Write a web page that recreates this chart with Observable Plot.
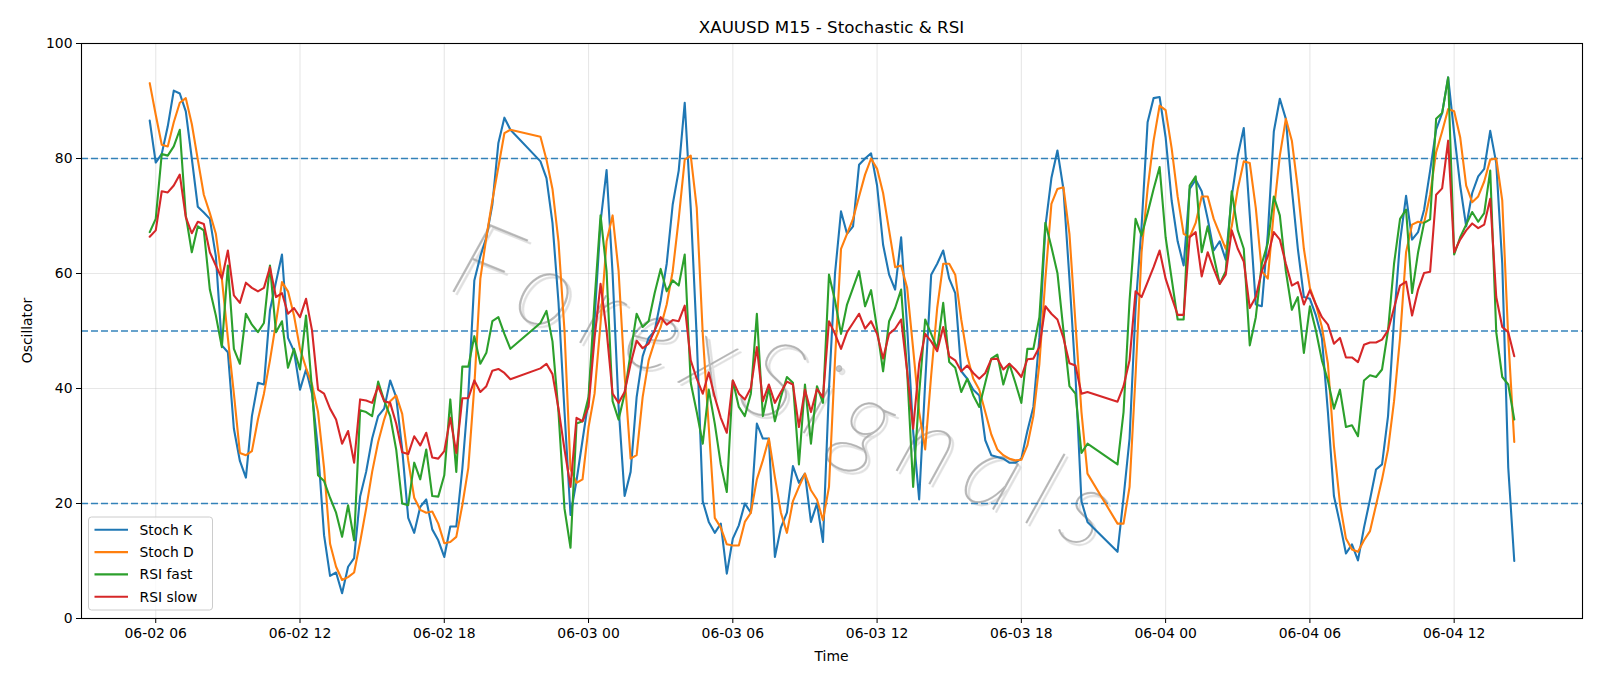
<!DOCTYPE html>
<html>
<head>
<meta charset="utf-8">
<script src="https://cdn.jsdelivr.net/npm/d3@7"></script>
<script src="https://cdn.jsdelivr.net/npm/@observablehq/plot@0.6"></script>
<style>
  html, body { margin: 0; padding: 0; background: #fff; }
  #chart { width: 1600px; height: 686px; }
</style>
</head>
<body>
<div id="chart"></div>
<script>
// XAUUSD 15-minute bars, three trading sessions (daily break 21:00-22:00 UTC)
const sessions = [
  {start: "2025-06-02T05:45:00Z", bars: 61},
  {start: "2025-06-02T22:00:00Z", bars: 92},
  {start: "2025-06-03T22:00:00Z", bars: 67}
];

const stochK = [
  // session 1
  86.6, 79.3, 80.8, 85.6, 91.8, 91.3, 88.2, 80, 71.6, 70.6,
  69.5, 63, 47.5, 46.3, 33, 27.4, 24.5, 35.2, 41, 40.7,
  53.6, 58.5, 63.3, 48.8, 46.5, 39.8, 43.3, 39.1, 29.4, 14.5,
  7.4, 8, 4.4, 9, 10.5, 21.2, 25.5, 31.3, 35.2, 36.5,
  41.4, 38.5, 29.4, 17.5, 14.9, 19.4, 20.7, 15.5, 13.6, 10.7,
  16, 16, 26, 39, 58.8, 63, 66.3, 72, 82.7, 87.1,
  85,
  // session 2
  79.5, 76.6, 68.8, 55, 36, 18, 24, 31, 38, 52,
  69, 78, 60, 36.8, 21.3, 25.5, 38.5, 45.6, 48.8, 50,
  55.3, 61.7, 72, 77.9, 89.7, 71.4, 48.8, 20.4, 16.8, 14.9,
  16.5, 7.8, 13.9, 16.2, 20, 18.4, 33.9, 31.3, 31.3, 10.7,
  15.8, 18.4, 26.5, 23.6, 25.2, 16.8, 20, 13.3, 40, 60,
  70.8, 66.9, 68.2, 78.9, 80, 80.9, 75.3, 65, 59.8, 57.2,
  66.3, 50.7, 32.6, 20.7, 41, 59.8, 61.7, 64, 59.1, 56.6,
  43, 41.7, 39.8, 38.8, 31, 28.4, 28.1, 27.8, 27.1, 27.1,
  27.8, 32.6, 36.8, 48.8, 68.2, 76.6, 81.4, 74.7, 59.1, 42.3,
  20.4, 16.8,
  // session 3
  11.6, 21, 31.3, 54, 68.2, 86.3, 90.5, 90.7, 83.7, 72.7,
  65.6, 61.4, 74.7, 76.3, 74.3, 69.5, 64, 65.6, 62.4, 73.4,
  80.5, 85.3, 70.1, 54.6, 54.3, 66.9, 84.7, 90.4, 86.9, 74.7,
  64.3, 55.9, 55.6, 52.7, 48.8, 35.9, 21.3, 16.5, 11.3, 12.9,
  10.1, 15.8, 20.7, 25.9, 26.8, 35.2, 52, 65.6, 73.5, 65.9,
  67.2, 71.1, 77.9, 85, 87.9, 94.1, 84.4, 75.3, 68.2, 74,
  76.9, 78.2, 84.8, 79.2, 61.7, 26.2, 10
];

const stochD = [
  // session 1
  93.1, 87.6, 82.4, 82.1, 86.3, 89.7, 90.5, 86, 79.8, 73.7,
  70.5, 66.9, 59.1, 48.8, 39.1, 28.8, 28.4, 29.1, 34.6, 39.1,
  44.9, 51.4, 58.5, 56.9, 52.7, 46.9, 43.6, 40.7, 35.9, 26.2,
  13, 9, 6.7, 7.2, 8, 13.3, 19.1, 25.5, 30.7, 34.6,
  37.8, 38.8, 35.6, 27.5, 21, 18.9, 18.4, 18.6, 16.5, 13.1,
  13.3, 14.2, 19.7, 26.2, 40.4, 59.1, 66.3, 72.7, 78.5, 84.4,
  85,
  // session 2
  83.8, 79.8, 74.7, 65.6, 50, 26, 23.6, 24.2, 33.3, 39.1,
  51.4, 65.6, 70.1, 60.4, 42.3, 27.8, 28.4, 38.5, 44.9, 48.2,
  50.7, 54.6, 60.4, 69.5, 79.8, 80.5, 71.4, 49.5, 33.3, 17.5,
  15.8, 12.9, 12.7, 12.7, 16.8, 18.4, 24.2, 27.5, 31.3, 24.6,
  18.4, 14.9, 20.4, 22.9, 25.2, 22.3, 20.7, 17.1, 22.9, 45,
  64.3, 66.9, 69.5, 73.4, 77.2, 80, 78.2, 74, 67.5, 61.1,
  61.4, 57.5, 46.9, 35.9, 29.4, 42.3, 54, 61.7, 61.7, 59.8,
  52, 45.6, 41.7, 39.8, 35.9, 32, 29.4, 28.4, 27.8, 27.5,
  27.6, 30.1, 35.2, 44.3, 59.1, 72.1, 74.7, 75, 66.9, 51.4,
  35.9, 25.2,
  // session 3
  16.5, 16.5, 22.9, 42.3, 63.7, 74.7, 83.1, 89.2, 88.4, 81.8,
  73.4, 66.9, 66.3, 68.8, 73.4, 73.4, 69.5, 66.9, 64.3, 68.2,
  74.7, 79.5, 79.2, 71.4, 60.4, 59.1, 70.8, 80.5, 86.9, 83.1,
  74.7, 64.3, 57.5, 54.6, 50.7, 44.3, 30, 20, 13.9, 12,
  11.6, 13.6, 15.2, 19.7, 24.2, 29.4, 37.8, 48.8, 63.7, 68.5,
  69, 68.8, 73.7, 81.1, 84.7, 88.6, 88.2, 83.7, 75.3, 72.4,
  73.4, 76, 79.8, 80, 72.7, 48.8, 30.7
];

const rsiFast = [
  // session 1
  67.2, 69.5, 80.8, 80.5, 82.1, 85, 70.1, 63.7, 68.2, 67.5,
  57.2, 52.7, 47.2, 61.4, 46.9, 44.3, 53, 51.1, 49.8, 51.4,
  61.4, 49.8, 51.7, 43.6, 46.9, 43.3, 52.7, 39.8, 24.9, 23.9,
  21, 18.4, 14.2, 19.7, 13.6, 36.2, 35.9, 35.2, 41.2, 37.9,
  35.2, 29.4, 20, 19.7, 27.1, 24.2, 29.4, 21.3, 21.2, 24.9,
  38.1, 25.5, 43.8, 43.8, 49.1, 44.3, 46.2, 51.7, 52.4, 49.5,
  46.9,
  // session 2
  51.4, 53.5, 48.2, 35.9, 19.1, 12.3, 33.9, 34.3, 38.5, 55.3,
  70.1, 60.4, 37.8, 34.6, 39.1, 46.2, 53, 50.7, 51.7, 56.6,
  60.8, 56.9, 58.8, 57.9, 63.3, 41, 35.9, 30.4, 39.8, 33.9,
  26.8, 22, 41.4, 36.8, 35.2, 39.1, 53, 35.2, 40.1, 34.3,
  38.5, 42, 41, 26.8, 40.7, 30.4, 40.4, 37.5, 59.8, 55.3,
  49.5, 54.6, 57.5, 60.4, 54.3, 57.1, 50.4, 43, 51.7, 54,
  57.2, 43, 22.9, 39.1, 52, 49.5, 46.9, 54.9, 44.6, 43.6,
  39.4, 41.7, 38.8, 36.8, 41, 45.2, 45.9, 40.7, 44.3, 41,
  37.5, 46.9, 46.9, 52.4, 68.8, 64.6, 60.1, 50.1, 40.4, 39.1,
  28.8, 30.4,
  // session 3
  26.8, 35.9, 55.3, 69.5, 66.6, 70.5, 74.7, 78.5, 66.3, 59.1,
  52, 52, 75.3, 76.9, 63.7, 68.2, 63, 58.2, 60.4, 74.3,
  67.5, 64.3, 47.5, 52.4, 61.7, 65.3, 73.4, 70.1, 60.4, 53.7,
  55.9, 46.2, 54.3, 50.1, 44.9, 41.4, 36.5, 39.8, 33.3, 33.6,
  31.7, 41.4, 42.3, 42, 43.3, 50.1, 61.7, 69.5, 71.1, 56.6,
  63.7, 68.8, 69.4, 86.9, 87.9, 94.1, 63.3, 66.3, 68.5, 70.7,
  69, 70.5, 77.9, 49.8, 42, 40.7, 34.6
];

const rsiSlow = [
  // session 1
  66.4, 67.5, 74.3, 74.1, 75.3, 77.2, 69.8, 67, 69, 68.6,
  63.7, 61.4, 59.1, 64, 56.2, 54.9, 58.4, 57.5, 56.9, 57.5,
  61.1, 55.9, 56.6, 53, 54, 52.4, 55.6, 50.1, 39.8, 39.1,
  36.5, 34.6, 30.4, 32.6, 27.1, 38.1, 37.9, 37.5, 40.4, 37.8,
  37.5, 33.9, 28.9, 28.6, 31.7, 30.1, 32.3, 28, 27.8, 29.1,
  34.9, 28.8, 38.3, 38.3, 41.4, 39.4, 40.4, 43.1, 43.4, 42.7,
  41.6,
  // session 2
  43.5, 44.3, 42.5, 36.5, 29.4, 22.9, 34.9, 34.3, 36.8, 48.8,
  58.2, 50.1, 39.1, 37.5, 39.4, 44.3, 48.3, 47, 47.8, 50.1,
  52.4, 51.1, 51.9, 51.7, 54.4, 44.9, 41.7, 39.1, 42.8, 38.5,
  34.9, 32.3, 41.4, 39.1, 38.1, 40.1, 47.2, 37.8, 40.7, 37.5,
  39.4, 41.2, 40.7, 33.3, 39.8, 35.9, 39.9, 38.5, 51.7, 49.5,
  46.9, 49.8, 51.4, 53, 50.4, 51.7, 49.5, 45.2, 49.5, 50.4,
  52, 43, 33, 44.3, 49.5, 48.2, 46.5, 50.7, 45.6, 44.9,
  43, 44, 42.7, 41.7, 42.7, 45.1, 45.2, 43.3, 44.3, 43.3,
  42, 45.1, 45.2, 47.2, 54.3, 53, 52, 48.8, 44.4, 44,
  39.1, 39.4,
  // session 3
  37.7, 40.4, 44.9, 56.9, 55.9, 58.5, 61.1, 64, 59.1, 55.9,
  52.8, 52.8, 66.3, 67.2, 59.5, 63.7, 60.8, 58.2, 59.8, 67.5,
  64.3, 62.1, 54, 55.9, 60.4, 63, 67.2, 65.9, 61.7, 57.9,
  58.5, 54.6, 57.1, 54.6, 52.4, 51.1, 47.8, 48.8, 45.4, 45.4,
  44.6, 47.6, 48, 48, 48.5, 50.1, 54, 57.9, 58.6, 52.7,
  57.2, 60.1, 60.3, 73.7, 74.8, 83.1, 63.7, 65.9, 67.5, 68.7,
  67.9, 68.5, 73, 55.9, 50.7, 49.8, 45.6
];

const seriesNames = ["Stoch K", "Stoch D", "RSI fast", "RSI slow"];
const seriesColors = ["#1f77b4", "#ff7f0e", "#2ca02c", "#d62728"];
const seriesValues = [stochK, stochD, rsiFast, rsiSlow];

const levels = [20, 50, 80];
const yTicks = [0, 20, 40, 60, 80, 100];
const chartTitle = "XAUUSD M15 - Stochastic & RSI";
const xLabel = "Time";
const yLabel = "Oscillator";
const watermark = "ForexSignals";

// bar timestamps
const BAR = 15 * 60 * 1000;
const times = sessions.flatMap(s =>
  d3.range(s.bars).map(k => new Date(Date.parse(s.start) + k * BAR))
);

// tidy rows per series
const series = seriesNames.map((name, si) => ({
  name,
  color: seriesColors[si],
  rows: seriesValues[si].map((v, i) => ({time: times[i], value: v}))
}));

// 5% padding on both sides of the time extent
const [t0, t1] = d3.extent(times);
const pad = (t1 - t0) * 0.05;
const xDomain = [new Date(+t0 - pad), new Date(+t1 + pad)];

const FONT = "DejaVu Sans, Liberation Sans, sans-serif";
const MARK_FONT = "Lato, Roboto, sans-serif";
const W = 1600, H = 686;
const mL = 81, mR = 18, mT = 43, mB = 68;

// faint watermark text, drawn under the series
const watermarkStyle = {
  frameAnchor: "middle", rotate: 22,
  fontSize: 108, fontStyle: "italic", fontWeight: 100, fontFamily: MARK_FONT
};

const svg = Plot.plot({
  width: W,
  height: H,
  marginLeft: mL,
  marginRight: mR,
  marginTop: mT,
  marginBottom: mB,
  style: {fontFamily: FONT, fontSize: "13.9px", background: "#fff", color: "#000", overflow: "visible"},
  x: {type: "utc", domain: xDomain},
  y: {domain: [0, 100]},
  marks: [
    Plot.gridX({ticks: d3.utcHour.every(6), stroke: "#b0b0b0", strokeOpacity: 0.3, strokeWidth: 1.1}),
    Plot.gridY(yTicks, {stroke: "#b0b0b0", strokeOpacity: 0.3, strokeWidth: 1.1}),
    Plot.text([watermark], {...watermarkStyle, dx: -39, dy: 62, fill: "#d8d8d8", stroke: "#d8d8d8", strokeWidth: 1.4, fillOpacity: 0.6, strokeOpacity: 0.6}),
    Plot.text([watermark], {...watermarkStyle, dx: -42, dy: 59, fill: "#a8a8a8", stroke: "#a8a8a8", strokeWidth: 1.1, fillOpacity: 0.65, strokeOpacity: 0.65}),
    Plot.ruleY(levels, {stroke: "#1f77b4", strokeOpacity: 0.9, strokeWidth: 1.5, strokeDasharray: "7,3"}),
    ...series.map(s => Plot.line(s.rows, {x: "time", y: "value", stroke: s.color, strokeWidth: 2.1, strokeLinejoin: "round"})),
    Plot.frame({stroke: "#000", strokeWidth: 1.1}),
    Plot.axisX({
      ticks: d3.utcHour.every(6), tickFormat: d3.utcFormat("%m-%d %H"),
      tickSize: 5, tickPadding: 5, label: null, fontSize: 13.9
    }),
    Plot.axisY(yTicks, {tickSize: 5, tickPadding: 4, label: null, fontSize: 13.9})
  ]
});

document.getElementById("chart").appendChild(svg);

const root = d3.select(svg);
// spread the watermark letters
root.selectAll('g[aria-label="text"] text').style("letter-spacing", "16px");

// title and axis labels
const frameCx = mL + (W - mL - mR) / 2;
root.append("text")
  .attr("x", frameCx).attr("y", 26.5)
  .attr("text-anchor", "middle").attr("dominant-baseline", "central")
  .attr("font-family", FONT).attr("font-size", 16.7).attr("fill", "#000")
  .text(chartTitle);
root.append("text")
  .attr("x", frameCx).attr("y", 656)
  .attr("text-anchor", "middle").attr("dominant-baseline", "central")
  .attr("font-family", FONT).attr("font-size", 13.9).attr("fill", "#000")
  .text(xLabel);
root.append("text")
  .attr("transform", `translate(26.5, ${mT + (H - mT - mB) / 2}) rotate(-90)`)
  .attr("text-anchor", "middle").attr("dominant-baseline", "central")
  .attr("font-family", FONT).attr("font-size", 13.9).attr("fill", "#000")
  .text(yLabel);

// legend, lower-left inside the frame
const lg = root.append("g").attr("transform", `translate(${mL + 7.5}, ${H - mB - 101})`);
lg.append("rect")
  .attr("x", 0).attr("y", 0).attr("width", 124).attr("height", 93)
  .attr("rx", 3).attr("fill", "#fff").attr("fill-opacity", 0.8)
  .attr("stroke", "#cccccc").attr("stroke-width", 1);
series.forEach((s, k) => {
  const yy = 12.8 + k * 22.3;
  lg.append("line")
    .attr("x1", 6).attr("x2", 39.5).attr("y1", yy).attr("y2", yy)
    .attr("stroke", s.color).attr("stroke-width", 2.1);
  lg.append("text")
    .attr("x", 51).attr("y", yy)
    .attr("text-anchor", "start").attr("dominant-baseline", "central")
    .attr("font-family", FONT).attr("font-size", 13.9).attr("fill", "#000")
    .text(s.name);
});
</script>
</body>
</html>
